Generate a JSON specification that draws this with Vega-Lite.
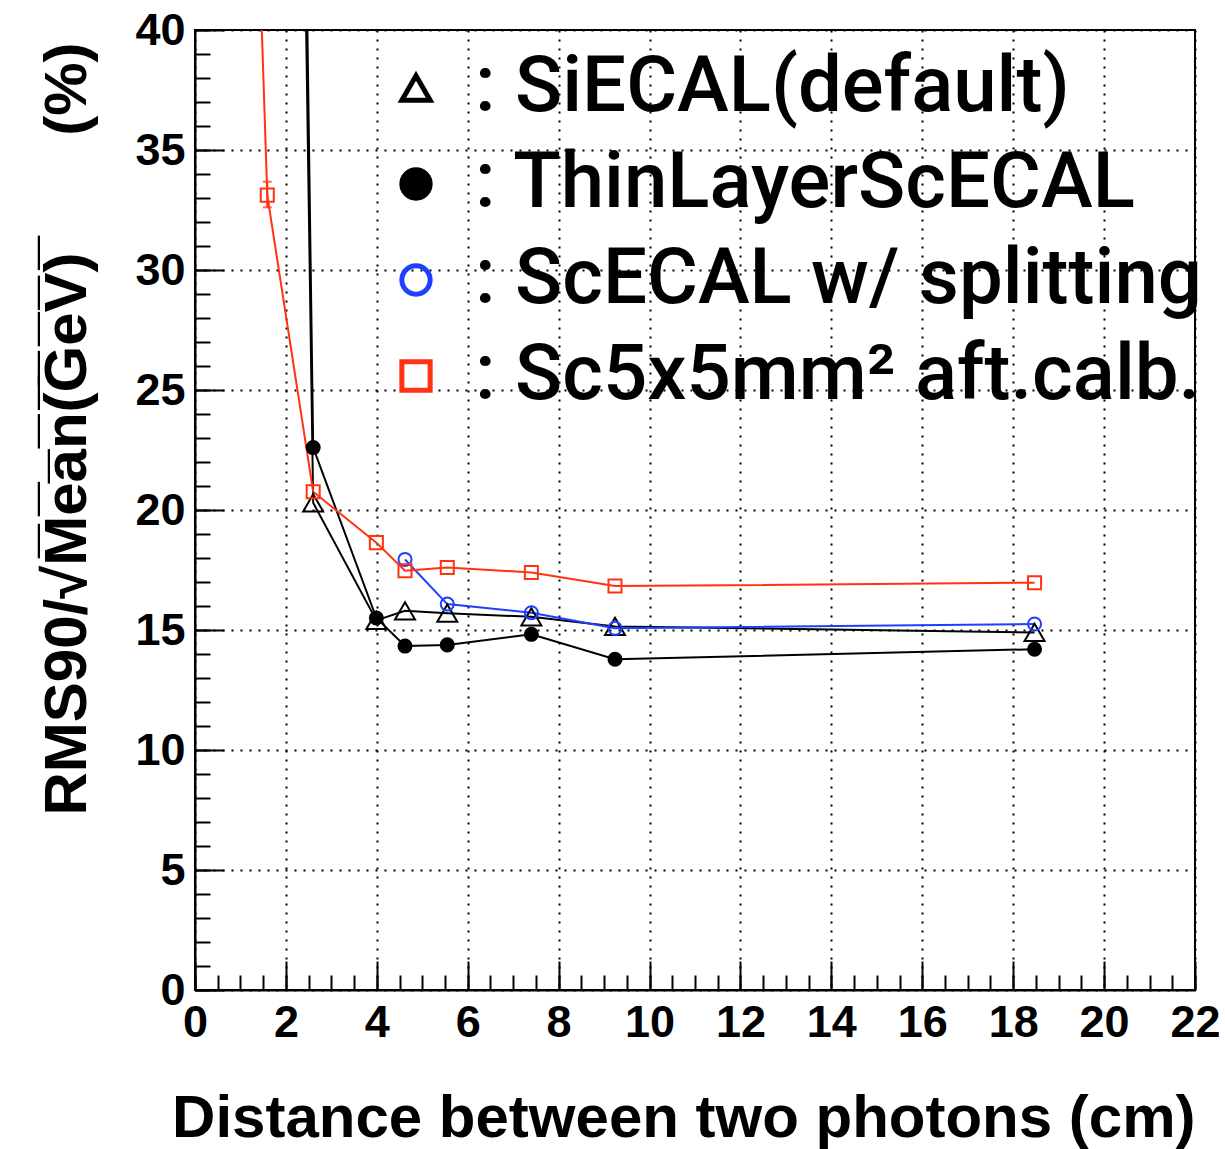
{
  "$schema": "https://vega.github.io/schema/vega-lite/v6.json",
  "width": 1000,
  "height": 960,
  "autosize": {"type": "none"},
  "padding": {"left": 195, "top": 30, "right": 30, "bottom": 159},
  "background": "white",
  "config": {
    "view": {"stroke": "black", "strokeWidth": 2},
    "axis": {
      "labelFont": "Liberation Sans", "labelFontWeight": "bold", "labelFontSize": 45, "labelColor": "black",
      "titleFont": "Liberation Sans", "titleFontWeight": "bold", "titleFontSize": 60, "titleColor": "black",
      "tickColor": "black", "domainColor": "black", "gridColor": "black", "labelOverlap": false, "labelFlush": false
    },
    "legend": {
      "padding": 0, "labelFont": "Roboto", "labelFontSize": 78, "labelFontWeight": 500, "labelColor": "black",
      "labelLimit": 1200, "labelOffset": 20, "symbolSize": 800, "symbolStrokeWidth": 5, "rowPadding": 18
    }
  },
  "datasets": {
    "pts": [
      {"series": "SiECAL(default)", "x": 1.59, "y": 149},
      {"series": "SiECAL(default)", "x": 2.6, "y": 20.3},
      {"series": "SiECAL(default)", "x": 3.99, "y": 15.4},
      {"series": "SiECAL(default)", "x": 4.62, "y": 15.8},
      {"series": "SiECAL(default)", "x": 5.55, "y": 15.7},
      {"series": "SiECAL(default)", "x": 7.4, "y": 15.55},
      {"series": "SiECAL(default)", "x": 9.24, "y": 15.15},
      {"series": "SiECAL(default)", "x": 18.47, "y": 14.9},
      {"series": "ThinLayerScECAL", "x": 1.59, "y": 161},
      {"series": "ThinLayerScECAL", "x": 2.6, "y": 22.6},
      {"series": "ThinLayerScECAL", "x": 3.99, "y": 15.5},
      {"series": "ThinLayerScECAL", "x": 4.62, "y": 14.33},
      {"series": "ThinLayerScECAL", "x": 5.55, "y": 14.38},
      {"series": "ThinLayerScECAL", "x": 7.4, "y": 14.82},
      {"series": "ThinLayerScECAL", "x": 9.24, "y": 13.78},
      {"series": "ThinLayerScECAL", "x": 18.47, "y": 14.2},
      {"series": "ScECAL w/ splitting", "x": 4.62, "y": 17.94},
      {"series": "ScECAL w/ splitting", "x": 5.55, "y": 16.08},
      {"series": "ScECAL w/ splitting", "x": 7.4, "y": 15.72},
      {"series": "ScECAL w/ splitting", "x": 9.24, "y": 15.07},
      {"series": "ScECAL w/ splitting", "x": 18.47, "y": 15.25},
      {"series": "Sc5x5mm² aft.calb.", "x": 1.0, "y": 67},
      {"series": "Sc5x5mm² aft.calb.", "x": 1.59, "y": 33.12},
      {"series": "Sc5x5mm² aft.calb.", "x": 2.6, "y": 20.76},
      {"series": "Sc5x5mm² aft.calb.", "x": 3.99, "y": 18.64},
      {"series": "Sc5x5mm² aft.calb.", "x": 4.62, "y": 17.47},
      {"series": "Sc5x5mm² aft.calb.", "x": 5.55, "y": 17.6},
      {"series": "Sc5x5mm² aft.calb.", "x": 7.4, "y": 17.4},
      {"series": "Sc5x5mm² aft.calb.", "x": 9.24, "y": 16.83},
      {"series": "Sc5x5mm² aft.calb.", "x": 18.47, "y": 16.97}
    ],
    "err": [
      {"series": "Sc5x5mm² aft.calb.", "x": 1.59, "lo": 32.61, "hi": 33.68}
    ]
  },
  "layer": [
    {
      "data": {"name": "pts"},
      "transform": [{"filter": "datum.series === 'SiECAL(default)' || datum.series === 'ThinLayerScECAL'"}],
      "mark": {"type": "line", "clip": true, "strokeWidth": 2, "color": "black"},
      "encoding": {
        "x": {"field": "x", "type": "quantitative", "scale": {"domain": [0, 22], "nice": false, "zero": false},
          "axis": {"orient": "bottom", "values": [0,0.5,1,1.5,2,2.5,3,3.5,4,4.5,5,5.5,6,6.5,7,7.5,8,8.5,9,9.5,10,10.5,11,11.5,12,12.5,13,13.5,14,14.5,15,15.5,16,16.5,17,17.5,18,18.5,19,19.5,20,20.5,21,21.5,22],
            "tickSize": -15, "tickWidth": 2, "labels": false, "domain": false, "grid": false, "title": null}},
        "y": {"field": "y", "type": "quantitative", "scale": {"domain": [0, 40], "nice": false, "zero": false},
          "axis": {"orient": "left", "values": [0,1,2,3,4,5,6,7,8,9,10,11,12,13,14,15,16,17,18,19,20,21,22,23,24,25,26,27,28,29,30,31,32,33,34,35,36,37,38,39,40],
            "tickSize": -15, "tickWidth": 2, "labels": false, "domain": false, "grid": false, "title": null}},
        "detail": {"field": "series"}
      }
    },
    {
      "data": {"name": "pts"},
      "transform": [{"filter": "datum.series === 'ScECAL w/ splitting'"}],
      "mark": {"type": "line", "clip": true, "strokeWidth": 2, "color": "#1f3fff"},
      "encoding": {
        "x": {"field": "x", "type": "quantitative", "axis": null},
        "y": {"field": "y", "type": "quantitative", "axis": null}
      }
    },
    {
      "data": {"name": "pts"},
      "transform": [{"filter": "datum.series === 'Sc5x5mm² aft.calb.'"}],
      "mark": {"type": "line", "clip": true, "strokeWidth": 2, "color": "#ff3311"},
      "encoding": {
        "x": {"field": "x", "type": "quantitative", "axis": null},
        "y": {"field": "y", "type": "quantitative", "axis": null}
      }
    },
    {
      "data": {"name": "err"},
      "mark": {"type": "errorbar", "ticks": {"size": 9, "color": "#ff3311", "thickness": 2}, "color": "#ff3311", "thickness": 2},
      "encoding": {
        "x": {"field": "x", "type": "quantitative", "axis": null},
        "y": {"field": "hi", "type": "quantitative", "axis": null},
        "y2": {"field": "lo"}
      }
    },
    {
      "data": {"name": "pts"},
      "transform": [{"filter": "datum.series === 'SiECAL(default)'"}],
      "mark": {"type": "point", "clip": true, "strokeWidth": 2, "opacity": 1, "size": 400},
      "encoding": {
        "x": {"field": "x", "type": "quantitative",
          "axis": {"orient": "bottom", "values": [0,2,4,6,8,10,12,14,16,18,20,22], "tickSize": -29, "tickWidth": 2,
            "domain": true, "domainWidth": 2, "grid": true, "gridDash": [2, 7], "gridWidth": 2, "labelPadding": 39,
            "title": "Distance between two photons (cm)", "titleAnchor": "end", "titleX": 1000, "titleY": 146,
            "titleAlign": "right", "titleBaseline": "alphabetic"}},
        "y": {"field": "y", "type": "quantitative",
          "axis": {"orient": "left", "values": [0,5,10,15,20,25,30,35,40], "tickSize": -29, "tickWidth": 2,
            "domain": true, "domainWidth": 2, "grid": true, "gridDash": [2, 7], "gridWidth": 2, "labelPadding": 39,
            "title": "RMS90/\u221aM\u0305e\u0305a\u0305n\u0305(\u0305G\u0305e\u0305V\u0305)\u0305\u00a0\u00a0\u00a0\u00a0\u00a0\u00a0\u00a0(%)",
            "titleAngle": -90, "titleX": -110, "titleY": 785, "titleAlign": "left", "titleBaseline": "alphabetic"}},
        "shape": {"field": "series", "type": "nominal",
          "scale": {"domain": ["SiECAL(default)", "ThinLayerScECAL", "ScECAL w/ splitting", "Sc5x5mm² aft.calb."], "range": ["triangle-up", "circle", "circle", "square"]},
          "legend": {"orient": "none", "legendX": 182, "legendY": 19, "title": null, "labelExpr": "': ' + datum.label"}},
        "fill": {"field": "series", "type": "nominal",
          "scale": {"domain": ["SiECAL(default)", "ThinLayerScECAL", "ScECAL w/ splitting", "Sc5x5mm² aft.calb."], "range": ["transparent", "black", "transparent", "transparent"]}},
        "stroke": {"field": "series", "type": "nominal",
          "scale": {"domain": ["SiECAL(default)", "ThinLayerScECAL", "ScECAL w/ splitting", "Sc5x5mm² aft.calb."], "range": ["black", "black", "#1f3fff", "#ff3311"]}}
      }
    },
    {
      "data": {"name": "pts"},
      "transform": [{"filter": "datum.series !== 'SiECAL(default)'"}],
      "mark": {"type": "point", "clip": true, "strokeWidth": 2, "opacity": 1, "size": 170},
      "encoding": {
        "x": {"field": "x", "type": "quantitative", "axis": null},
        "y": {"field": "y", "type": "quantitative", "axis": null},
        "shape": {"field": "series", "type": "nominal"},
        "fill": {"field": "series", "type": "nominal"},
        "stroke": {"field": "series", "type": "nominal"}
      }
    }
  ],
  "resolve": {"axis": {"x": "independent", "y": "independent"}}
}
